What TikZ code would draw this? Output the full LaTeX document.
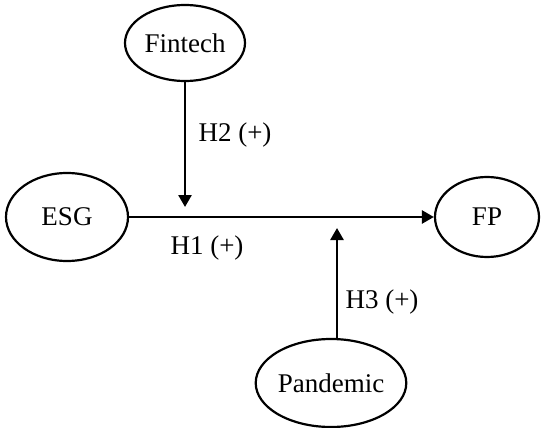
\documentclass[tikz,border=0pt]{standalone}
\usepackage{fontspec}
\setmainfont{Liberation Serif}
\usetikzlibrary{arrows.meta,shapes.geometric,positioning,calc}

\begin{document}
\begin{tikzpicture}[x=1pt,y=-1pt,
  var/.style={draw,ellipse,line width=2.2pt,inner sep=0pt,font=\fontsize{27}{31}\selectfont},
  path/.style={line width=2.6pt,-{Triangle[length=12pt,width=13pt]}},
  hyp/.style={font=\fontsize{27}{31}\selectfont}]
  \useasboundingbox (0,0) rectangle (541,428);
  \node[var,minimum width=120pt,minimum height=76pt] (fintech) at (185,43) {Fintech};
  \node[var,minimum width=122pt,minimum height=88pt] (esg) at (67,217) {ESG};
  \node[var,minimum width=104pt,minimum height=80pt] (fp) at (487,217) {FP};
  \node[var,minimum width=146pt,minimum height=88pt] (pandemic) at (331,383) {Pandemic};
  \coordinate (M1) at (185,207);
  \coordinate (M2) at (337,228);
  \draw[path] (esg.east) -- (fp.west);
  \draw[path] (fintech.south) -- (M1);
  \draw[path] (pandemic.north -| M2) -- (M2);
  \node[hyp] (h1) at (207,248) {H1 (+)};
  \node[hyp] (h2) at (235,135) {H2 (+)};
  \node[hyp] (h3) at (382,302) {H3 (+)};
\end{tikzpicture}
\end{document}
